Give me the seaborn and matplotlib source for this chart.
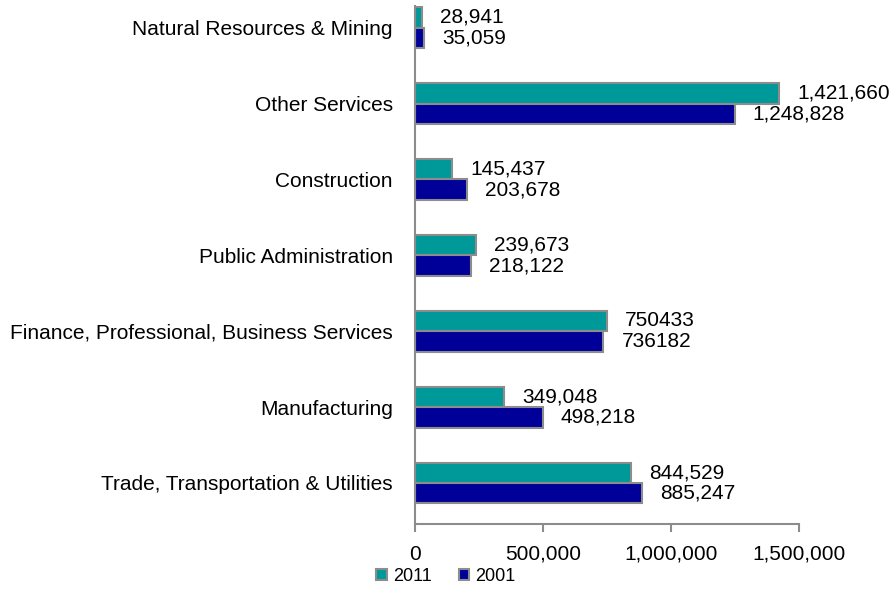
import pandas as pd
import seaborn as sns
import matplotlib.pyplot as plt

sns.set_style('white')
plt.rcParams['font.family'] = ['Liberation Sans', 'DejaVu Sans']
plt.rcParams['text.color'] = 'black'
plt.rcParams['xtick.color'] = 'black'
plt.rcParams['ytick.color'] = 'black'

industries = ['Natural Resources & Mining', 'Other Services', 'Construction',
              'Public Administration',
              'Finance, Professional, Business Services', 'Manufacturing',
              'Trade, Transportation & Utilities']
jobs_2011 = [28941, 1421660, 145437, 239673, 750433, 349048, 844529]
jobs_2001 = [35059, 1248828, 203678, 218122, 736182, 498218, 885247]
labels_2011 = ['28,941', '1,421,660', '145,437', '239,673', '750433',
               '349,048', '844,529']
labels_2001 = ['35,059', '1,248,828', '203,678', '218,122', '736182',
               '498,218', '885,247']
years = ['2011', '2001']
x_ticks = [0, 500000, 1000000, 1500000]
x_tick_labels = ['0', '500,000', '1,000,000', '1,500,000']

data = pd.DataFrame({
    'Industry': industries * 2,
    'Jobs': jobs_2011 + jobs_2001,
    'Year': ['2011'] * len(industries) + ['2001'] * len(industries),
})

fig = plt.figure(figsize=(8.95, 5.89), dpi=100)
ax = fig.add_axes([0.4637, 0.1104, 0.429, 0.88])
sns.barplot(data=data, x='Jobs', y='Industry', hue='Year', hue_order=years,
            order=industries, palette=['#009999', '#000099'], saturation=1,
            width=0.54, edgecolor='#8c8c8c', linewidth=1.5, orient='h',
            ax=ax, legend=False)

for container, labels in zip(ax.containers, [labels_2011, labels_2001]):
    ax.bar_label(container, labels=labels, padding=13, fontsize=15,
                 clip_on=False)

ax.set_xlim(0, 1500000)
ax.set_ylim(6.54, -0.29)
ax.set_xticks(x_ticks)
ax.set_xticklabels(x_tick_labels, fontsize=15)
ax.tick_params(axis='x', length=6, width=1.5, color='#8c8c8c', pad=9,
               bottom=True)
ax.tick_params(axis='y', length=0, pad=16, labelsize=15)
ax.set_xlabel('')
ax.set_ylabel('')
for side in ['top', 'right']:
    ax.spines[side].set_visible(False)
for side in ['left', 'bottom']:
    ax.spines[side].set_color('#8c8c8c')
    ax.spines[side].set_linewidth(1.5)

handles = [plt.Rectangle((0, 0), 1, 1, facecolor=c, edgecolor='#8c8c8c',
                         linewidth=1.5) for c in ['#009999', '#000099']]
fig.legend(handles, years, loc='center', bbox_to_anchor=(0.498, 0.021),
           ncol=2, frameon=False, fontsize=13, handlelength=0.6,
           handleheight=0.6, handletextpad=0.3, columnspacing=1.5)

fig.savefig('out.png', dpi=100)
